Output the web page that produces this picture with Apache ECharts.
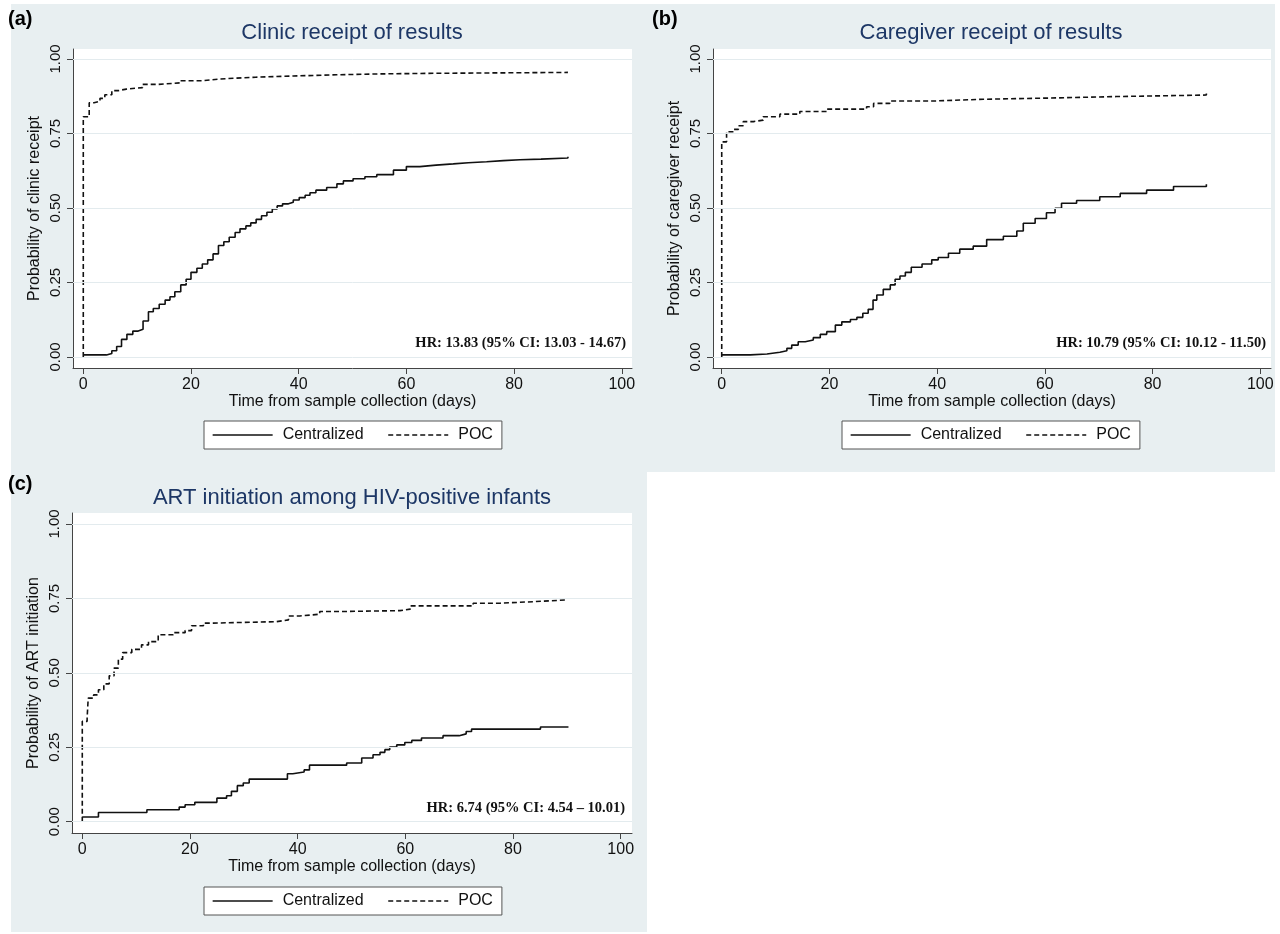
<!DOCTYPE html>
<html>
<head>
<meta charset="utf-8">
<script src="https://cdn.jsdelivr.net/npm/echarts@6/dist/echarts.min.js"></script>
<style>html,body{margin:0;padding:0;background:#fff;}#c{width:1280px;height:934px;}</style>
</head>
<body>
<div id="c"></div>
<script>
// ---- tick labels ----
const xTicks = [0, 20, 40, 60, 80, 100];
const yTicks = [0, 0.25, 0.5, 0.75, 1];
const seriesNames = ['Centralized', 'POC'];

// ---- (a) Clinic receipt of results ----
const aCenT = [0,4.3,5.3,6.2,7.1,8.1,9.2,10.2,11.1,12.1,13,14.1,15.2,16.1,17,18.1,19.1,20,21.1,22.1,23.1,24.1,25.1,26.1,27.1,28.2,29.1,30.2,31.1,32.1,33.1,34.1,35.1,36,37,38.1,39,40.1,41.2,42.1,43.2,45.2,47.1,48.3,50.1,52.3,54.5,57.6,60,62.5,65.5,68.7,71.5,74.9,78,81.1,85,90];
const aCenV = [0.007,0.012,0.021,0.035,0.059,0.076,0.087,0.093,0.121,0.152,0.163,0.177,0.191,0.202,0.219,0.242,0.261,0.284,0.298,0.312,0.326,0.346,0.374,0.387,0.402,0.418,0.430,0.440,0.450,0.462,0.474,0.486,0.497,0.507,0.514,0.519,0.527,0.535,0.543,0.551,0.560,0.569,0.581,0.591,0.598,0.605,0.612,0.627,0.639,0.644,0.648,0.652,0.655,0.659,0.662,0.664,0.668,0.672];
const aPocT = [0,0,1.1,2,3.1,4,5.3,6.5,8,11,14,18,22,25.4,32,39,47,55,65,90];
const aPocV = [0,0.806,0.853,0.858,0.868,0.880,0.894,0.899,0.904,0.915,0.920,0.927,0.933,0.939,0.943,0.947,0.950,0.952,0.955,0.957];

// ---- (b) Caregiver receipt of results ----
const bCenT = [0,5.3,8.4,10.8,12.1,13,14.2,15.5,17,18.3,19.5,21.1,22.3,23.9,25.1,26.2,27.2,28.1,28.8,30,31.3,32.2,33.1,34.1,35.2,37.2,39,40.2,42.1,44.2,46.7,49.2,52.3,54.8,56,58.2,60.3,61.9,63.1,65.9,70.2,74,78.9,83.9,90];
const bCenV = [0.007,0.010,0.016,0.021,0.029,0.040,0.051,0.057,0.065,0.076,0.085,0.107,0.118,0.126,0.133,0.147,0.160,0.191,0.208,0.227,0.242,0.261,0.272,0.284,0.301,0.312,0.326,0.334,0.348,0.362,0.372,0.394,0.405,0.423,0.449,0.465,0.484,0.499,0.516,0.525,0.538,0.549,0.560,0.572,0.580];
const bPocT = [0,0,0.9,2.2,3.1,4,5.9,7.7,10.8,14.5,19.5,26.9,28.2,31.2,39.3,48.6,60.9,73.3,90];
const bPocV = [0,0.722,0.756,0.764,0.776,0.790,0.795,0.806,0.815,0.824,0.832,0.840,0.851,0.859,0.865,0.869,0.874,0.879,0.885];

// ---- (c) ART initiation among HIV-positive infants ----
const cCenT = [0,3,12,18,19.1,20.9,25,26.8,27.7,28.8,29.9,31,38.1,39.1,41.2,42.2,49.1,51.9,54,55.3,56.2,57.1,58.4,59.9,61.2,63,67,70,71.3,72.3,85.1,90.3];
const cCenV = [0.016,0.031,0.040,0.049,0.057,0.065,0.079,0.087,0.102,0.121,0.130,0.143,0.161,0.167,0.174,0.190,0.197,0.214,0.225,0.233,0.242,0.251,0.258,0.266,0.273,0.281,0.289,0.295,0.303,0.311,0.318,0.318];
const cPocT = [0,0,0.9,1.1,2.1,3,4,5,5.9,6.7,7.5,9.2,11,12.3,14.1,16.9,19.1,20.3,22.5,24,36.1,38.3,40.4,44.1,47.9,59,60.9,72.6,77.6,83.7,90];
const cPocV = [0,0.337,0.348,0.415,0.426,0.443,0.463,0.490,0.516,0.546,0.568,0.579,0.594,0.605,0.628,0.635,0.642,0.658,0.667,0.672,0.678,0.691,0.697,0.706,0.709,0.714,0.725,0.734,0.739,0.745,0.745];

// ---- texts ----
const panelLabels = ['(a)', '(b)', '(c)'];
const panelTitles = ['Clinic receipt of results', 'Caregiver receipt of results', 'ART initiation among HIV-positive infants'];
const yNames = ['Probability of clinic receipt', 'Probability of caregiver receipt', 'Probability of ART initiation'];
const xName = 'Time from sample collection (days)';
const hrTexts = ['HR: 13.83 (95% CI: 13.03 - 14.67)', 'HR: 10.79 (95% CI: 10.12 - 11.50)', 'HR: 6.74 (95% CI: 4.54 \u2013 10.01)'];

const zip = (t, v) => t.map((x, i) => [x, v[i]]);
const curves = [
  [zip(aCenT, aCenV), zip(aPocT, aPocV)],
  [zip(bCenT, bCenV), zip(bPocT, bPocV)],
  [zip(cCenT, cCenV), zip(cPocT, cPocV)]
];

// layout (pixels)
const grids = [
  {left: 73, top: 49, width: 559, height: 319},
  {left: 713, top: 49, width: 558, height: 319},
  {left: 72, top: 513, width: 560, height: 320}
];
const xRange = [[-1.91, 101.9], [-1.62, 102.0], [-1.91, 102.1]];
const yRange = [[-0.0369, 1.0336], [-0.0369, 1.0336], [-0.038, 1.037]];
const labelPos = [[8, 9], [652, 9], [8, 474]];
const titlePos = [[352, 22], [991, 22], [352, 487]];
const hrPos = [[626, 336], [1266, 336], [625, 801]];
const legendPos = [[204, 421], [842, 421], [204, 887]];

const FONT = 'Liberation Sans, Arial, Helvetica, sans-serif';
const AXC = '#444';
const bg = '#e8eff1';

const title = [], xAxis = [], yAxis = [], series = [], legend = [];
for (let i = 0; i < 3; i++) {
  title.push({text: panelLabels[i], left: labelPos[i][0], top: labelPos[i][1], padding: 0,
    textStyle: {fontSize: 20, fontWeight: 'bold', fontFamily: FONT, color: '#000'}});
  title.push({text: panelTitles[i], left: titlePos[i][0], top: titlePos[i][1], textAlign: 'center', padding: 0,
    textStyle: {fontSize: 22, fontWeight: 'normal', fontFamily: FONT, color: '#1d3766'}});
  title.push({text: hrTexts[i], left: hrPos[i][0], top: hrPos[i][1], textAlign: 'right', padding: 0,
    textStyle: {fontSize: 14.5, fontWeight: 'bold', fontFamily: 'Liberation Serif, Times New Roman, serif', color: '#111'}});
  xAxis.push({type: 'value', gridIndex: i, min: xRange[i][0], max: xRange[i][1],
    name: xName, nameLocation: 'middle', nameGap: 25,
    nameTextStyle: {fontSize: 16, fontFamily: FONT, color: '#111'},
    axisLine: {show: true, onZero: false, lineStyle: {color: AXC, width: 1}},
    axisTick: {show: true, length: 6, customValues: xTicks, lineStyle: {color: AXC}},
    axisLabel: {customValues: xTicks, margin: 9, fontSize: 16, fontFamily: FONT, color: '#111'},
    splitLine: {show: false}});
  yAxis.push({type: 'value', gridIndex: i, min: yRange[i][0], max: yRange[i][1],
    name: yNames[i], nameLocation: 'middle', nameGap: 30,
    nameTextStyle: {fontSize: 16, fontFamily: FONT, color: '#111'},
    axisLine: {show: true, onZero: false, lineStyle: {color: AXC, width: 1}},
    axisTick: {show: true, length: 6, customValues: yTicks, lineStyle: {color: AXC}},
    axisLabel: {customValues: yTicks, rotate: 90, margin: 10, fontSize: 15, fontFamily: FONT, color: '#111',
      formatter: v => v.toFixed(2)},
    splitLine: {show: false}});
  series.push({name: seriesNames[0], type: 'line', xAxisIndex: i, yAxisIndex: i, step: 'end',
    data: curves[i][0], symbol: 'none', animation: false,
    lineStyle: {color: '#111', width: 1.6, type: 'solid'}, itemStyle: {color: '#111'},
    markLine: {silent: true, symbol: ['none', 'none'], animation: false, label: {show: false},
      lineStyle: {color: '#e3ebee', width: 1, type: 'solid'},
      data: yTicks.map(v => ({yAxis: v}))}});
  series.push({name: seriesNames[1], type: 'line', xAxisIndex: i, yAxisIndex: i, step: 'end',
    data: curves[i][1], symbol: 'none', animation: false,
    lineStyle: {color: '#111', width: 1.6, type: [5, 3]}, itemStyle: {color: '#111'}});
  legend.push({data: seriesNames, left: legendPos[i][0], top: legendPos[i][1], orient: 'horizontal',
    padding: [6, 9, 6, 8], itemWidth: 60, itemHeight: 14, itemGap: 24,
    backgroundColor: '#fff', borderColor: '#555', borderWidth: 1, borderRadius: 0,
    selectedMode: false,
    itemStyle: {color: 'rgba(0,0,0,0)', borderWidth: 0, opacity: 0},
    lineStyle: {width: 1.3},
    textStyle: {fontSize: 16, fontFamily: FONT, color: '#111', padding: [0, 0, 0, 5]}});
}

const chart = echarts.init(document.getElementById('c'), null, {renderer: 'canvas'});
chart.setOption({
  backgroundColor: '#fff',
  animation: false,
  graphic: [
    {type: 'rect', z: -10, silent: true, shape: {x: 11, y: 4, width: 1264, height: 468}, style: {fill: bg}},
    {type: 'rect', z: -10, silent: true, shape: {x: 11, y: 472, width: 636, height: 460}, style: {fill: bg}}
  ],
  title: title,
  legend: legend,
  grid: grids.map(g => Object.assign({show: true, backgroundColor: '#fff', borderWidth: 0, containLabel: false}, g)),
  xAxis: xAxis,
  yAxis: yAxis,
  series: series
});
</script>
</body>
</html>
